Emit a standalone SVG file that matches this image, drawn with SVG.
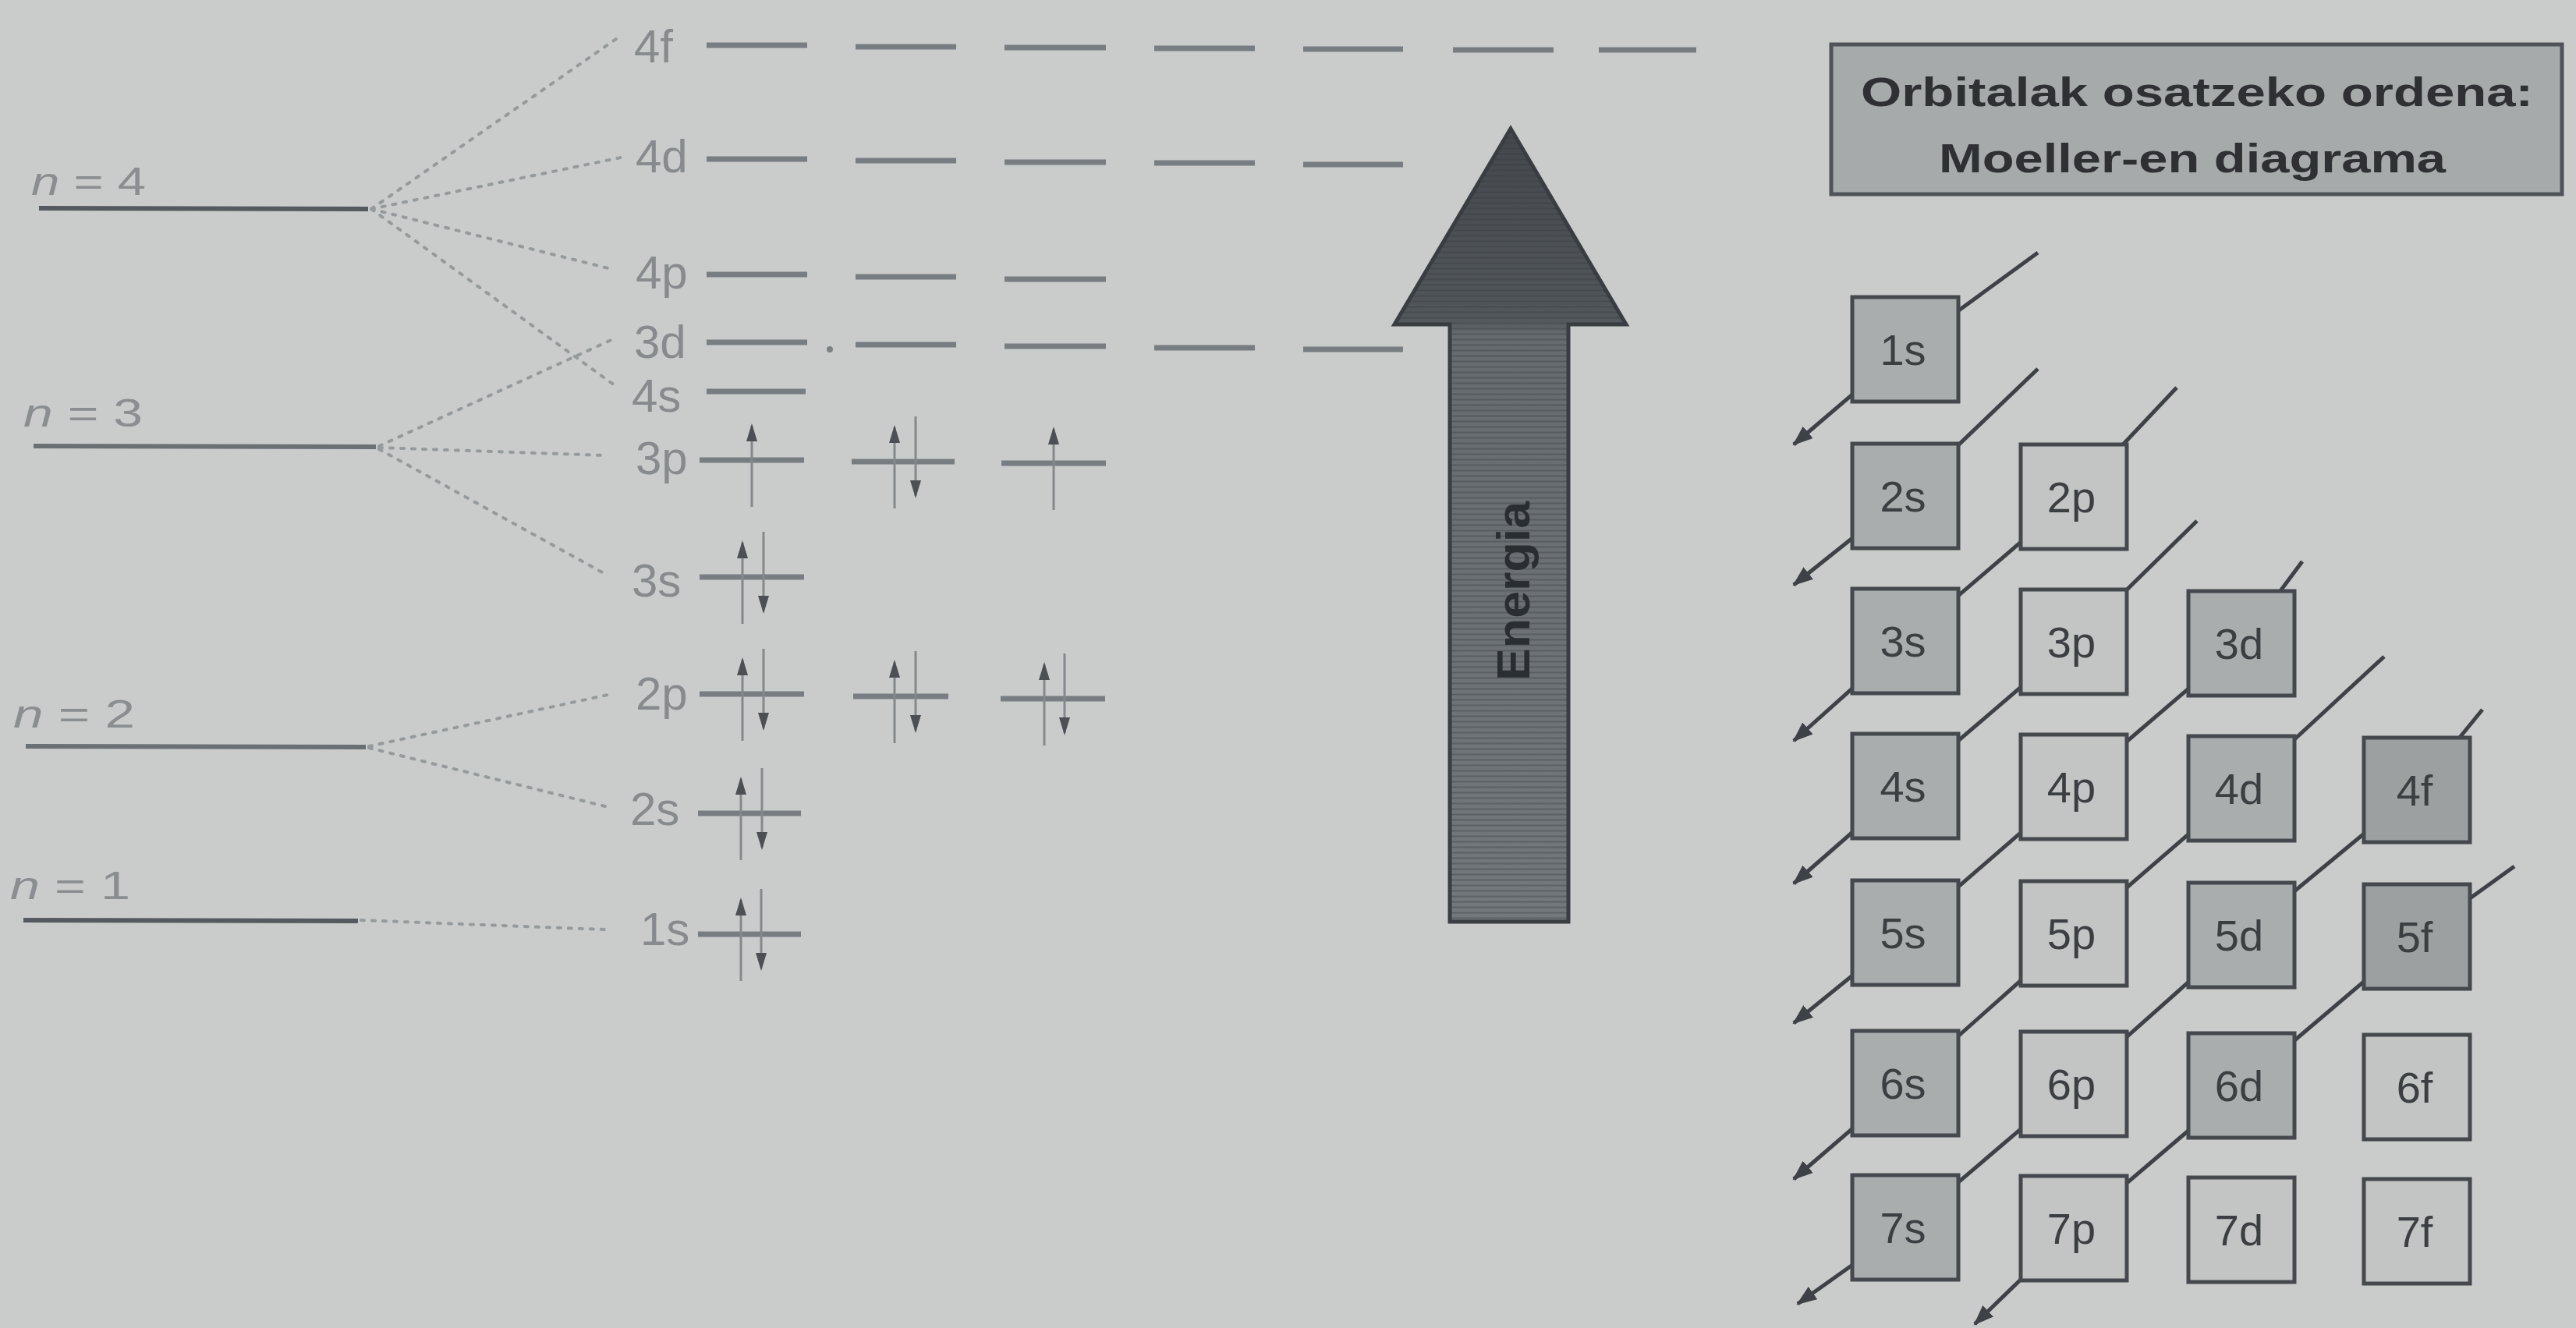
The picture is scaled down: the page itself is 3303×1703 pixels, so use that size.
<svg xmlns="http://www.w3.org/2000/svg" xmlns:xlink="http://www.w3.org/1999/xlink" width="3303" height="1703" viewBox="0 0 3303 1703">
<style>
.lbl{font-family:"Liberation Sans",Arial,sans-serif;font-size:60px;fill:#878b8d}
.nlbl{font-family:"Liberation Sans",Arial,sans-serif;font-size:50px;fill:#8a8e90}
.lvl{stroke:#555a5f;stroke-width:6;fill:none}
.lvl2{stroke:#6b7075;stroke-width:6;fill:none}
.dash{stroke:#787d81;stroke-width:7;fill:none}
.dot{stroke:#959a9c;stroke-width:4;stroke-dasharray:4 10;fill:none;stroke-linecap:round}
.es{stroke:#85898c;stroke-width:3;fill:none}
.eh{fill:#4c5054}
.box{stroke:#45494d;stroke-width:5}
.bs{fill:#aaadae}
.bl{fill:#c2c5c4}
.bd{fill:#9da0a1}
.bt{font-family:"Liberation Sans",Arial,sans-serif;font-size:56px;fill:#3c3f42;text-anchor:middle}
.diag{stroke:#3e4246;stroke-width:5;fill:none;stroke-linejoin:round;marker-end:url(#ah)}
.ttl{font-family:"Liberation Sans",Arial,sans-serif;font-size:52px;font-weight:bold;fill:#2e3033}
</style>
<defs>
<marker id="ah" markerUnits="userSpaceOnUse" markerWidth="30" markerHeight="24" refX="24" refY="10" orient="auto">
<path d="M0,0 L26,10 L0,20 Z" fill="#3e4246"/>
</marker>
<g id="up"><line class="es" x1="0" y1="-44" x2="0" y2="60"/><polygon class="eh" points="0,-47 -7,-24 7,-24"/></g>
<g id="dn"><line class="es" x1="0" y1="-58" x2="0" y2="44"/><polygon class="eh" points="0,47 -7,24 7,24"/></g>
<linearGradient id="ag" x1="0" y1="0" x2="0" y2="1">
<stop offset="0" stop-color="#44484d"/>
<stop offset="0.24" stop-color="#52575c"/>
<stop offset="0.26" stop-color="#666b70"/>
<stop offset="1" stop-color="#73787c"/>
</linearGradient>
<pattern id="stripes" width="10" height="7" patternUnits="userSpaceOnUse">
<line x1="0" y1="1.5" x2="10" y2="1.5" stroke="#34383c" stroke-opacity="0.35" stroke-width="2"/>
</pattern>
</defs>
<rect width="3303" height="1703" fill="#c9ccca"/>

<g id="connectors">
<g id="split-lines">
<line class="dot" x1="476" y1="268" x2="790" y2="50"/>
<line class="dot" x1="476" y1="268" x2="796" y2="202"/>
<line class="dot" x1="476" y1="268" x2="788" y2="346"/>
<line class="dot" x1="476" y1="268" x2="788" y2="494"/>
<line class="dot" x1="486" y1="572" x2="788" y2="434"/>
<line class="dot" x1="486" y1="574" x2="776" y2="584"/>
<line class="dot" x1="486" y1="576" x2="774" y2="735"/>
<line class="dot" x1="473" y1="957" x2="784" y2="890"/>
<line class="dot" x1="473" y1="959" x2="780" y2="1035"/>
<line class="dot" x1="463" y1="1180" x2="775" y2="1192"/>
</g>
<g id="moeller-diagonals">
<polyline class="diag" points="2613,324 2443,448 2300,570"/>
<polyline class="diag" points="2613,473 2443,636 2300,750"/>
<polyline class="diag" points="2791,497 2659,637 2443,822 2300,950"/>
<polyline class="diag" points="2817,668 2659,823 2443,1008 2300,1133"/>
<polyline class="diag" points="2952,720 2874,825 2659,1009 2443,1196 2300,1312"/>
<polyline class="diag" points="3057,842 2874,1011 2659,1197 2443,1389 2300,1512"/>
<polyline class="diag" points="3183,910 3099,1013 2874,1199 2659,1390 2443,1574 2305,1672"/>
<polyline class="diag" points="3224,1111 3099,1201 2874,1392 2659,1575 2532,1698"/>
</g>
</g>

<g id="shell-levels">
<g id="n4"><line class="lvl" x1="50" y1="267" x2="472" y2="268"/><text class="nlbl" x="40" y="250" textLength="147" lengthAdjust="spacingAndGlyphs"><tspan font-style="italic">n</tspan> = 4</text></g>
<g id="n3"><line class="lvl2" x1="43" y1="572" x2="482" y2="573"/><text class="nlbl" x="30" y="547" textLength="153" lengthAdjust="spacingAndGlyphs"><tspan font-style="italic">n</tspan> = 3</text></g>
<g id="n2"><line class="lvl2" x1="33" y1="957" x2="469" y2="958"/><text class="nlbl" x="17" y="933" textLength="156" lengthAdjust="spacingAndGlyphs"><tspan font-style="italic">n</tspan> = 2</text></g>
<g id="n1"><line class="lvl" x1="30" y1="1180" x2="459" y2="1181"/><text class="nlbl" x="13" y="1153" textLength="154" lengthAdjust="spacingAndGlyphs"><tspan font-style="italic">n</tspan> = 1</text></g>
</g>

<g id="orbitals">
<g id="o4f"><text class="lbl" x="813" y="80">4f</text>
<line class="dash" x1="906" y1="58" x2="1035" y2="58"/><line class="dash" x1="1097" y1="60" x2="1226" y2="60"/><line class="dash" x1="1288" y1="61" x2="1418" y2="61"/><line class="dash" x1="1480" y1="62" x2="1609" y2="62"/><line class="dash" x1="1671" y1="63" x2="1799" y2="63"/><line class="dash" x1="1863" y1="64" x2="1992" y2="64"/><line class="dash" x1="2050" y1="64" x2="2175" y2="64"/></g>
<g id="o4d"><text class="lbl" x="815" y="221">4d</text>
<line class="dash" x1="906" y1="204" x2="1035" y2="204"/><line class="dash" x1="1097" y1="206" x2="1226" y2="206"/><line class="dash" x1="1288" y1="208" x2="1418" y2="208"/><line class="dash" x1="1480" y1="209" x2="1609" y2="209"/><line class="dash" x1="1671" y1="211" x2="1799" y2="211"/></g>
<g id="o4p"><text class="lbl" x="815" y="370">4p</text>
<line class="dash" x1="906" y1="352" x2="1035" y2="352"/><line class="dash" x1="1097" y1="355" x2="1226" y2="355"/><line class="dash" x1="1288" y1="358" x2="1418" y2="358"/></g>
<g id="o3d"><text class="lbl" x="813" y="459">3d</text>
<line class="dash" x1="906" y1="439" x2="1035" y2="439"/><circle cx="1064" cy="448" r="4" fill="#7c8184"/><line class="dash" x1="1097" y1="442" x2="1226" y2="442"/><line class="dash" x1="1288" y1="444" x2="1418" y2="444"/><line class="dash" x1="1480" y1="446" x2="1609" y2="446"/><line class="dash" x1="1671" y1="448" x2="1799" y2="448"/></g>
<g id="o4s"><text class="lbl" x="810" y="528">4s</text>
<line class="dash" x1="906" y1="502" x2="1033" y2="502"/></g>
<g id="o3p"><text class="lbl" x="815" y="608">3p</text>
<line class="dash" x1="897" y1="590" x2="1031" y2="590"/><line class="dash" x1="1092" y1="592" x2="1224" y2="592"/><line class="dash" x1="1284" y1="594" x2="1418" y2="594"/>
<use xlink:href="#up" x="964" y="590"/><use xlink:href="#up" x="1147" y="592"/><use xlink:href="#dn" x="1174" y="592"/><use xlink:href="#up" x="1351" y="594"/></g>
<g id="o3s"><text class="lbl" x="810" y="765">3s</text>
<line class="dash" x1="897" y1="740" x2="1031" y2="740"/>
<use xlink:href="#up" x="952" y="740"/><use xlink:href="#dn" x="979" y="740"/></g>
<g id="o2p"><text class="lbl" x="815" y="910">2p</text>
<line class="dash" x1="897" y1="890" x2="1031" y2="890"/><line class="dash" x1="1094" y1="893" x2="1216" y2="893"/><line class="dash" x1="1283" y1="896" x2="1417" y2="896"/>
<use xlink:href="#up" x="952" y="890"/><use xlink:href="#dn" x="979" y="890"/><use xlink:href="#up" x="1147" y="893"/><use xlink:href="#dn" x="1174" y="893"/><use xlink:href="#up" x="1339" y="896"/><use xlink:href="#dn" x="1365" y="896"/></g>
<g id="o2s"><text class="lbl" x="808" y="1058">2s</text>
<line class="dash" x1="895" y1="1043" x2="1027" y2="1043"/>
<use xlink:href="#up" x="950" y="1043"/><use xlink:href="#dn" x="977" y="1043"/></g>
<g id="o1s"><text class="lbl" x="821" y="1212">1s</text>
<line class="dash" x1="895" y1="1198" x2="1027" y2="1198"/>
<use xlink:href="#up" x="950" y="1198"/><use xlink:href="#dn" x="976" y="1198"/></g>
</g>

<g id="energy-arrow">
<polygon points="1937,165 2085,416 2011,416 2011,1182 1859,1182 1859,416 1788,416" fill="url(#ag)" stroke="#3a3e42" stroke-width="5" stroke-linejoin="miter"/>
<polygon points="1937,165 2085,416 2011,416 2011,1182 1859,1182 1859,416 1788,416" fill="url(#stripes)"/>
<text transform="translate(1961,758) rotate(-90)" text-anchor="middle" font-family="Liberation Sans, Arial, sans-serif" font-weight="bold" font-size="60" fill="#2b2e31" textLength="230" lengthAdjust="spacingAndGlyphs">Energia</text>
</g>

<g id="title">
<rect x="2348" y="57" width="937" height="192" fill="#a7aaab" stroke="#505458" stroke-width="5"/>
<text class="ttl" x="2386" y="136" textLength="862" lengthAdjust="spacingAndGlyphs">Orbitalak osatzeko ordena:</text>
<text class="ttl" x="2486" y="221" textLength="650" lengthAdjust="spacingAndGlyphs">Moeller-en diagrama</text>
</g>

<g id="moeller-boxes">
<g id="b1s"><rect class="box bs" x="2375" y="381" width="136" height="134"/><text class="bt" x="2440" y="468">1s</text></g>
<g id="b2s"><rect class="box bs" x="2375" y="569" width="136" height="134"/><text class="bt" x="2440" y="656">2s</text></g>
<g id="b2p"><rect class="box bl" x="2591" y="570" width="136" height="134"/><text class="bt" x="2656" y="657">2p</text></g>
<g id="b3s"><rect class="box bs" x="2375" y="755" width="136" height="134"/><text class="bt" x="2440" y="842">3s</text></g>
<g id="b3p"><rect class="box bl" x="2591" y="756" width="136" height="134"/><text class="bt" x="2656" y="843">3p</text></g>
<g id="b3d"><rect class="box bs" x="2806" y="758" width="136" height="134"/><text class="bt" x="2871" y="845">3d</text></g>
<g id="b4s"><rect class="box bs" x="2375" y="941" width="136" height="134"/><text class="bt" x="2440" y="1028">4s</text></g>
<g id="b4p"><rect class="box bl" x="2591" y="942" width="136" height="134"/><text class="bt" x="2656" y="1029">4p</text></g>
<g id="b4d"><rect class="box bs" x="2806" y="944" width="136" height="134"/><text class="bt" x="2871" y="1031">4d</text></g>
<g id="b4f"><rect class="box bd" x="3031" y="946" width="136" height="134"/><text class="bt" x="3096" y="1033">4f</text></g>
<g id="b5s"><rect class="box bs" x="2375" y="1129" width="136" height="134"/><text class="bt" x="2440" y="1216">5s</text></g>
<g id="b5p"><rect class="box bl" x="2591" y="1130" width="136" height="134"/><text class="bt" x="2656" y="1217">5p</text></g>
<g id="b5d"><rect class="box bs" x="2806" y="1132" width="136" height="134"/><text class="bt" x="2871" y="1219">5d</text></g>
<g id="b5f"><rect class="box bd" x="3031" y="1134" width="136" height="134"/><text class="bt" x="3096" y="1221">5f</text></g>
<g id="b6s"><rect class="box bs" x="2375" y="1322" width="136" height="134"/><text class="bt" x="2440" y="1409">6s</text></g>
<g id="b6p"><rect class="box bl" x="2591" y="1323" width="136" height="134"/><text class="bt" x="2656" y="1410">6p</text></g>
<g id="b6d"><rect class="box bs" x="2806" y="1325" width="136" height="134"/><text class="bt" x="2871" y="1412">6d</text></g>
<g id="b6f"><rect class="box bl" x="3031" y="1327" width="136" height="134"/><text class="bt" x="3096" y="1414">6f</text></g>
<g id="b7s"><rect class="box bs" x="2375" y="1507" width="136" height="134"/><text class="bt" x="2440" y="1594">7s</text></g>
<g id="b7p"><rect class="box bl" x="2591" y="1508" width="136" height="134"/><text class="bt" x="2656" y="1595">7p</text></g>
<g id="b7d"><rect class="box bl" x="2806" y="1510" width="136" height="134"/><text class="bt" x="2871" y="1597">7d</text></g>
<g id="b7f"><rect class="box bl" x="3031" y="1512" width="136" height="134"/><text class="bt" x="3096" y="1599">7f</text></g>
</g>
</svg>
